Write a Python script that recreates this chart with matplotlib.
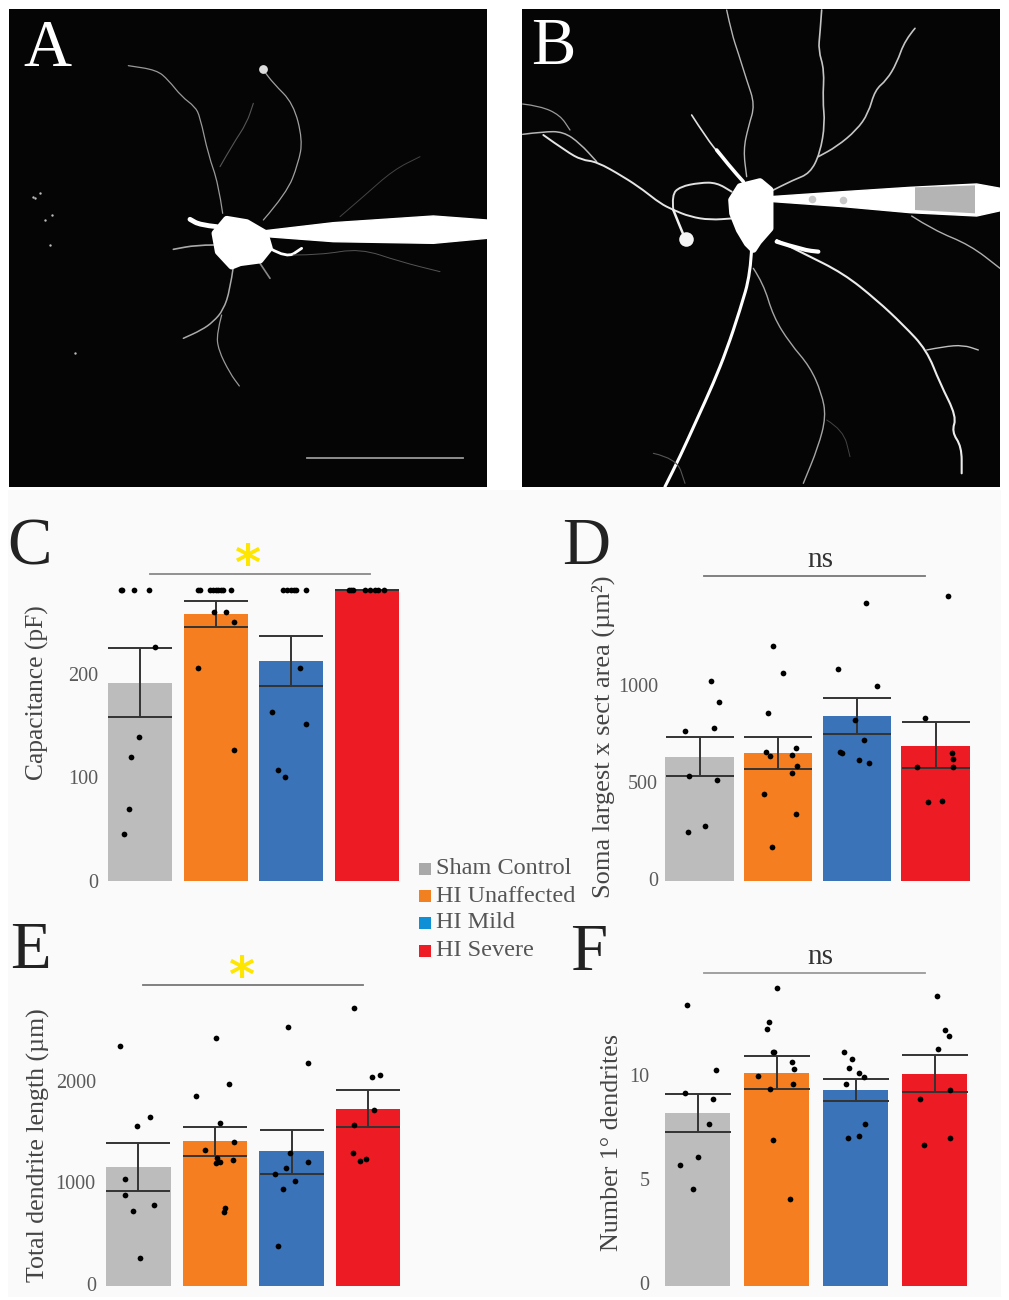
import matplotlib
matplotlib.use("Agg")
import matplotlib.pyplot as plt
from matplotlib.patches import PathPatch
from matplotlib.path import Path
from matplotlib.transforms import ScaledTranslation

plt.rcParams['font.family'] = ['Liberation Serif', 'DejaVu Serif']

W, H = 1009, 1300

groups = ["Sham Control", "HI Unaffected", "HI Mild", "HI Severe"]
bar_colors = ["#bcbcbc", "#f57f20", "#3a73b8", "#ed1c24"]
legend_colors = ["#a9a9a9", "#f08020", "#0f8fd6", "#ee1c25"]

# C - capacitance
c_means = [191.6, 258, 213, 281]
c_err_low = [158.8, 245.7, 188.7, 281]
c_err_high = [224.8, 270.8, 237, 281]
c_jitter = [
    [-.26, -.24, -.08, .12, .19, -.02, -.12, -.15, -.21],
    [-.24, -.21, -.07, -.04, 0, .03, .07, .10, .2, -.02, .14, .24, -.23, .24],
    [-.11, -.06, 0, .04, .06, .19, .11, -.25, .19, -.17, -.09],
    [-.24, -.21, -.18, -.02, .04, .11, .15, .23],
]
c_values = [
    [281, 281, 281, 281, 226, 139, 120, 70, 45],
    [281, 281, 281, 281, 281, 281, 281, 281, 281, 260, 260, 250.6, 206, 127],
    [281, 281, 281, 281, 281, 281, 206, 163.6, 152, 107, 100.8],
    [281, 281, 281, 281, 281, 281, 281, 281],
]

# D - soma area
d_means = [641, 658, 850, 698]
d_err_low = [541, 577, 758, 581]
d_err_high = [742, 742, 945, 821]
d_jitter = [
    [-.19, .15, .25, .19, -.13, .22, .07, -.14],
    [-.06, .06, -.13, .22, -.15, -.11, .17, .24, .17, -.18, .23, -.08],
    [.12, -.24, .25, -.03, .09, -.22, -.19, .03, .16],
    [.16, -.14, .21, .22, .22, -.23, -.10, .08],
]
d_values = [
    [773, 1029, 923, 790, 543, 522, 282, 251],
    [1211, 1074, 864, 686, 665, 644, 651, 593, 557, 448, 344, 175],
    [1435, 1091, 1005, 832, 727, 663, 658, 624, 610],
    [1471, 842, 662, 627, 589, 589, 405, 412],
]

# E - dendrite length
e_means = [1171, 1428, 1326, 1747]
e_err_low = [938, 1280, 1105, 1566]
e_err_high = [1408, 1566, 1539, 1934]
e_jitter = [
    [-.24, .15, -.02, -.17, -.17, .20, -.07, .02],
    [.02, .18, -.25, .07, .25, -.13, .03, .24, .07, .02, .13, .12],
    [-.04, .22, -.02, .21, -.07, -.21, .05, -.11, -.18],
    [-.18, .16, .05, .08, -.18, -.20, -.03, -.11],
]
e_values = [
    [2368, 1661, 1579, 1056, 895, 796, 734, 270],
    [2447, 1987, 1868, 1609, 1421, 1339, 1263, 1240, 1220, 1207, 766, 727],
    [2549, 2194, 1313, 1224, 1158, 1105, 1036, 951, 395],
    [2737, 2079, 2056, 1737, 1582, 1313, 1247, 1230],
]

# F - primary dendrites
f_means = [8.30, 10.24, 9.39, 10.18]
f_err_low = [7.38, 9.47, 8.88, 9.30]
f_err_high = [9.23, 11.04, 9.94, 11.10]
f_jitter = [
    [-.13, .24, -.16, .20, .15, .01, -.22, -.06],
    [0, -.09, -.12, -.05, -.03, .19, .22, -.23, .21, -.08, -.04, .17],
    [-.15, -.05, -.08, .05, .11, -.12, .12, .04, -.10],
    [.03, .13, .18, .04, .20, -.18, .19, -.13],
]
f_values = [
    [13.47, 10.38, 9.28, 8.98, 7.78, 6.18, 5.79, 4.67],
    [14.29, 12.69, 12.32, 11.22, 11.22, 10.75, 10.42, 10.08, 9.68, 9.46, 7.01, 4.19],
    [11.25, 10.88, 10.45, 10.24, 10.05, 9.68, 7.76, 7.2, 7.12],
    [13.92, 12.29, 12.0, 11.39, 9.41, 8.98, 7.10, 6.78],
]

# traced neurites of the two micrographs, (points, width, grey)
a_neurites = [
    ([(668, 640), (655, 550), (625, 465), (600, 350), (585, 320), (545, 290), (505, 240), (470, 210), (385, 197)], 0.9, "#999999"),
    ([(660, 500), (700, 430), (740, 370), (760, 310)], 0.8, "#555555"),
    ([(790, 660), (860, 580), (895, 490), (908, 420), (880, 310), (820, 250), (790, 210)], 0.9, "#a0a0a0"),
    ([(1020, 650), (1090, 590), (1180, 510), (1260, 470)], 0.7, "#444444"),
    ([(650, 680), (600, 675), (570, 658)], 3.5, "#ffffff"),
    ([(640, 735), (590, 735), (520, 748)], 1.2, "#aaaaaa"),
    ([(700, 800), (690, 870), (670, 930), (640, 965), (605, 990), (550, 1015)], 1.1, "#aaaaaa"),
    ([(665, 945), (650, 1000), (655, 1050), (690, 1120), (718, 1158)], 0.9, "#999999"),
    ([(810, 745), (860, 775), (905, 745)], 2.0, "#ffffff"),
    ([(880, 765), (960, 765), (1080, 745), (1200, 785), (1320, 815)], 0.7, "#555555"),
    ([(780, 790), (810, 835)], 1.2, "#888888"),
]
a_soma = [(680, 658), (740, 668), (795, 700), (808, 745), (780, 780), (720, 788), (695, 798), (655, 755), (645, 700)]
a_pipette = [(770, 695), (1000, 668), (1300, 648), (1461, 660), (1461, 715), (1300, 730), (1000, 725), (800, 710)]
a_debris_x = [100, 120, 155, 135, 225, 105, 150]
a_debris_y = [590, 580, 645, 660, 1060, 595, 735]

b_neurites = [
    ([(650, 30), (665, 100), (685, 160), (710, 240), (735, 315), (715, 380), (700, 450), (710, 530)], 1.0, "#b5b5b5"),
    ([(935, 30), (930, 100), (925, 150), (943, 210), (938, 300), (945, 370), (930, 460), (900, 520), (850, 540), (780, 575)], 1.2, "#c5c5c5"),
    ([(1215, 85), (1185, 120), (1160, 190), (1130, 240), (1095, 270), (1075, 340), (1040, 390), (980, 440), (925, 470)], 1.2, "#c5c5c5"),
    ([(545, 345), (590, 415), (630, 465)], 1.2, "#e0e0e0"),
    ([(620, 450), (660, 500), (700, 545)], 2.6, "#ffffff"),
    ([(38, 312), (90, 318), (150, 345), (180, 390)], 0.9, "#9a9a9a"),
    ([(38, 403), (100, 395), (160, 395), (210, 430), (260, 485)], 1.1, "#b5b5b5"),
    ([(100, 405), (170, 455), (215, 480), (260, 485), (340, 530), (400, 570), (450, 610), (490, 630), (540, 650), (600, 660), (670, 655)], 1.4, "#e5e5e5"),
    ([(490, 630), (485, 585), (510, 560), (570, 548), (620, 548), (665, 575)], 1.4, "#e0e0e0"),
    ([(490, 630), (510, 680), (525, 715)], 1.8, "#f0f0f0"),
    ([(725, 740), (722, 820), (690, 930), (650, 1050), (610, 1150), (560, 1260), (510, 1370), (465, 1460)], 2.2, "#ffffff"),
    ([(730, 805), (760, 850), (790, 950), (840, 1030), (900, 1100), (935, 1180), (948, 1250), (925, 1340), (880, 1450)], 1.0, "#a5a5a5"),
    ([(800, 720), (880, 760), (1000, 820), (1100, 900), (1180, 975), (1250, 1050), (1290, 1150), (1340, 1250), (1325, 1295), (1355, 1340), (1355, 1420)], 1.5, "#ececec"),
    ([(1250, 1050), (1300, 1040), (1360, 1035), (1405, 1050)], 1.0, "#c0c0c0"),
    ([(1205, 648), (1270, 690), (1380, 735), (1470, 805)], 1.0, "#b0b0b0"),
    ([(950, 1260), (1000, 1290), (1020, 1370)], 0.7, "#444444"),
    ([(430, 1360), (500, 1375), (525, 1450)], 0.8, "#555555"),
    ([(800, 725), (880, 750), (925, 755)], 3.0, "#ffffff"),
]
b_soma = [(690, 560), (750, 545), (780, 570), (780, 685), (745, 725), (730, 748), (712, 730), (688, 690), (668, 640), (665, 600)]
b_pipette = [(780, 590), (1000, 575), (1200, 562), (1400, 552), (1472, 565), (1472, 632), (1400, 648), (1200, 638), (1000, 620), (790, 605)]
b_band = [(1215, 562), (1395, 556), (1395, 640), (1215, 630)]


def px_axes(fig, left, top, right, bottom):
    return fig.add_axes([left / W, 1 - bottom / H, (right - left) / W, (bottom - top) / H])


def curve(ax, pts, lw, col):
    # quadratic curve through the midpoints, the tracing corners are the control points
    verts = [pts[0]]
    codes = [Path.MOVETO]
    for a, b in zip(pts[1:-1], pts[2:]):
        verts += [a, ((a[0] + b[0]) / 2, (a[1] + b[1]) / 2)]
        codes += [Path.CURVE3, Path.CURVE3]
    verts.append(pts[-1])
    codes.append(Path.LINETO)
    ax.add_patch(PathPatch(Path(verts, codes), fc="none", ec=col, lw=lw, capstyle="round"))


def micrograph(fig, left, x0, neurites, soma, pipette):
    # image axes are in the coordinates of the traced outline
    ax = px_axes(fig, left, 9, left + 478, 487)
    ax.set_xlim(x0, x0 + 1434)
    ax.set_ylim(1461, 27)
    ax.set_facecolor("#050505")
    ax.set_xticks([])
    ax.set_yticks([])
    for s in ax.spines.values():
        s.set_visible(False)
    for pts, lw, col in neurites:
        curve(ax, pts, lw, col)
    ax.fill([p[0] for p in soma], [p[1] for p in soma], fc="white", ec="white", lw=5, joinstyle="round")
    ax.fill([p[0] for p in pipette], [p[1] for p in pipette], fc="white", ec="white", lw=1, joinstyle="round")
    return ax


def bar_panel(fig, c0, step, base, scale, ticks, pad, shift, width, means, low, high, jitter, values, ylabel, label_x, label_y, fs):
    left = c0 - step / 2
    ax = px_axes(fig, left, base - 320, left + 4 * step, base)
    ax.set_xlim(-0.5, 3.5)
    ax.set_ylim(0, 320 / scale)
    ax.patch.set_alpha(0)
    xs = list(range(4))
    ax.bar(xs, means, width=width, color=bar_colors, zorder=1)
    yerr = [[m - l for m, l in zip(means, low)], [h - m for m, h in zip(means, high)]]
    ax.errorbar(xs, means, yerr=yerr, fmt="none", ecolor="#333333", elinewidth=1.4,
                capsize=width * step * 0.36, capthick=1.4, zorder=2)
    for i in xs:
        ax.scatter([i + j for j in jitter[i]], values[i], s=17, color="black", lw=0, zorder=3)
    for s in ax.spines.values():
        s.set_visible(False)
    ax.set_xticks([])
    ax.set_yticks(ticks)
    ax.tick_params(axis="y", length=0, pad=pad, labelsize=14.5, labelcolor="#5a5a5a")
    offset = ScaledTranslation(0, shift / 100, fig.dpi_scale_trans)
    for lab in ax.get_yticklabels():
        lab.set_transform(lab.get_transform() + offset)
    fig.text(label_x / W, 1 - label_y / H, ylabel, rotation=90, ha="center", va="center",
             fontsize=fs, color="#444444")
    return ax


fig = plt.figure(figsize=(W / 100, H / 100), dpi=100, facecolor="white")

# pale page behind the charts, plus everything placed in pixels
over = fig.add_axes([0, 0, 1, 1], zorder=-1)
over.set_xlim(0, W)
over.set_ylim(H, 0)
over.axis("off")
over.fill_between([8, W - 8], 490, H - 3, color="#fafafa", lw=0)

ax_a = micrograph(fig, 9, 27, a_neurites, a_soma, a_pipette)
ax_a.scatter(a_debris_x, a_debris_y, s=3, color="#bbbbbb", lw=0)
ax_a.scatter([788], [208], s=40, color="#dddddd", lw=0, zorder=3)
ax_a.plot([922, 1390], [1374, 1374], color="#999999", lw=1.3)

ax_b = micrograph(fig, 522, 36, b_neurites, b_soma, b_pipette)
ax_b.fill([p[0] for p in b_band], [p[1] for p in b_band], color="#b4b4b4", lw=0, zorder=4)
ax_b.scatter([905, 1000], [596, 600], s=30, color="#c8c8c8", lw=0, zorder=4)
ax_b.scatter([527], [716], s=110, color="#f5f5f5", lw=0, zorder=3)

bar_panel(fig, 140.2, 75.55, 881, 1.035, [0, 100, 200], 3, 0, 0.85,
          c_means, c_err_low, c_err_high, c_jitter, c_values,
          "Capacitance (pF)", 37, 693, 18.4)
bar_panel(fig, 699.5, 78.7, 881, 0.194, [0, 500, 1000], 1.5, 2, 0.87,
          d_means, d_err_low, d_err_high, d_jitter, d_values,
          "Soma largest x sect area (\u00b5m\u00b2)", 603, 737, 19)
bar_panel(fig, 138.3, 76.6, 1285.7, 0.1013, [0, 1000, 2000], 3, 2, 0.845,
          e_means, e_err_low, e_err_high, e_jitter, e_values,
          "Total dendrite length (\u00b5m)", 38, 1145, 18.6)
bar_panel(fig, 697.5, 79, 1286, 20.83, [0, 5, 10], 6, 3, 0.835,
          f_means, f_err_low, f_err_high, f_jitter, f_values,
          "Number 1\u00b0 dendrites", 612, 1142, 18.7)

# panel letters
top = fig.add_axes([0, 0, 1, 1], zorder=10)
top.set_xlim(0, W)
top.set_ylim(H, 0)
top.axis("off")
for letter, x, y, col in [("A", 47, 42, "white"), ("B", 553, 41, "white"),
                          ("C", 30, 541, "#222222"), ("D", 586, 540, "#222222"),
                          ("E", 31, 945, "#222222"), ("F", 589, 947, "#222222")]:
    top.text(x, y, letter, fontsize=48, color=col, ha="center", va="center_baseline")

# significance lines
top.plot([150, 370], [574, 574], color="#888888", lw=1.3)
top.plot([143, 363], [985, 985], color="#777777", lw=1.3)
top.plot([704, 925], [576, 576], color="#777777", lw=1.3)
top.plot([704, 925], [973, 973], color="#999999", lw=1.3)
top.text(247, 566, "*", fontsize=36, fontweight="bold", color="#ffe600", ha="center", va="center", family="DejaVu Sans")
top.text(240.7, 978, "*", fontsize=36, fontweight="bold", color="#ffe600", ha="center", va="center", family="DejaVu Sans")
top.text(820, 560, "ns", fontsize=21, color="#333333", ha="center", va="center")
top.text(820, 957, "ns", fontsize=21, color="#333333", ha="center", va="center")

# legend
for name, col, y in zip(groups, legend_colors, [869, 896, 923, 951]):
    top.scatter([424.5], [y], s=85, marker="s", color=col, lw=0)
    top.text(436, y, name, fontsize=17.5, color="#555555", ha="left", va="center")

fig.savefig("out.png", dpi=100, facecolor="white")
